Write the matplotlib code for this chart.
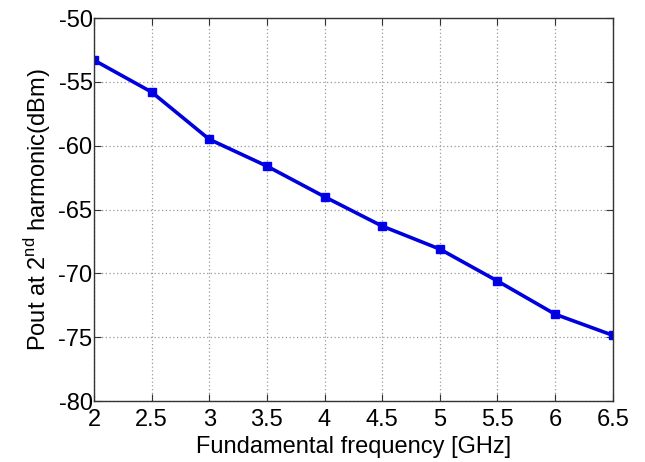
import matplotlib.pyplot as plt

plt.rcParams['font.family'] = ['Liberation Sans', 'DejaVu Sans']
plt.rcParams['axes.unicode_minus'] = False

# Data
freq = [2, 2.5, 3, 3.5, 4, 4.5, 5, 5.5, 6, 6.5]
pout = [-53.3, -55.8, -59.5, -61.6, -64.0, -66.3, -68.1, -70.6, -73.2, -74.85]

x_ticks = [2, 2.5, 3, 3.5, 4, 4.5, 5, 5.5, 6, 6.5]
x_tick_labels = ['2', '2.5', '3', '3.5', '4', '4.5', '5', '5.5', '6', '6.5']
y_ticks = [-80, -75, -70, -65, -60, -55, -50]

fig = plt.figure(figsize=(6.45, 4.62), dpi=100)
ax = fig.add_axes([0.1457, 0.132, 0.8043, 0.829])

ax.plot(freq, pout, color='#0000dd', linewidth=2.6, marker='s',
        markersize=6, markerfacecolor='#0000dd', markeredgecolor='#0000ff')

ax.set_xlim(2, 6.5)
ax.set_ylim(-80, -50)
ax.set_xticks(x_ticks)
ax.set_xticklabels(x_tick_labels)
ax.set_yticks(y_ticks)

ax.grid(True, linestyle=(0, (1, 2)), color='#999999', linewidth=0.9)
ax.tick_params(direction='in', top=True, right=True, labelsize=17, length=5,
               color='#333333')
ax.tick_params(axis='x', pad=6)
ax.tick_params(axis='y', pad=1)
for s in ax.spines.values():
    s.set_color('#333333')
    s.set_linewidth(1.0)

ax.set_xlabel('Fundamental frequency [GHz]', fontsize=17, labelpad=3)
ax.set_ylabel('Pout at 2$^{\\mathregular{nd}}$ harmonic(dBm)', fontsize=17, labelpad=4)

plt.savefig('out.png', dpi=100)
